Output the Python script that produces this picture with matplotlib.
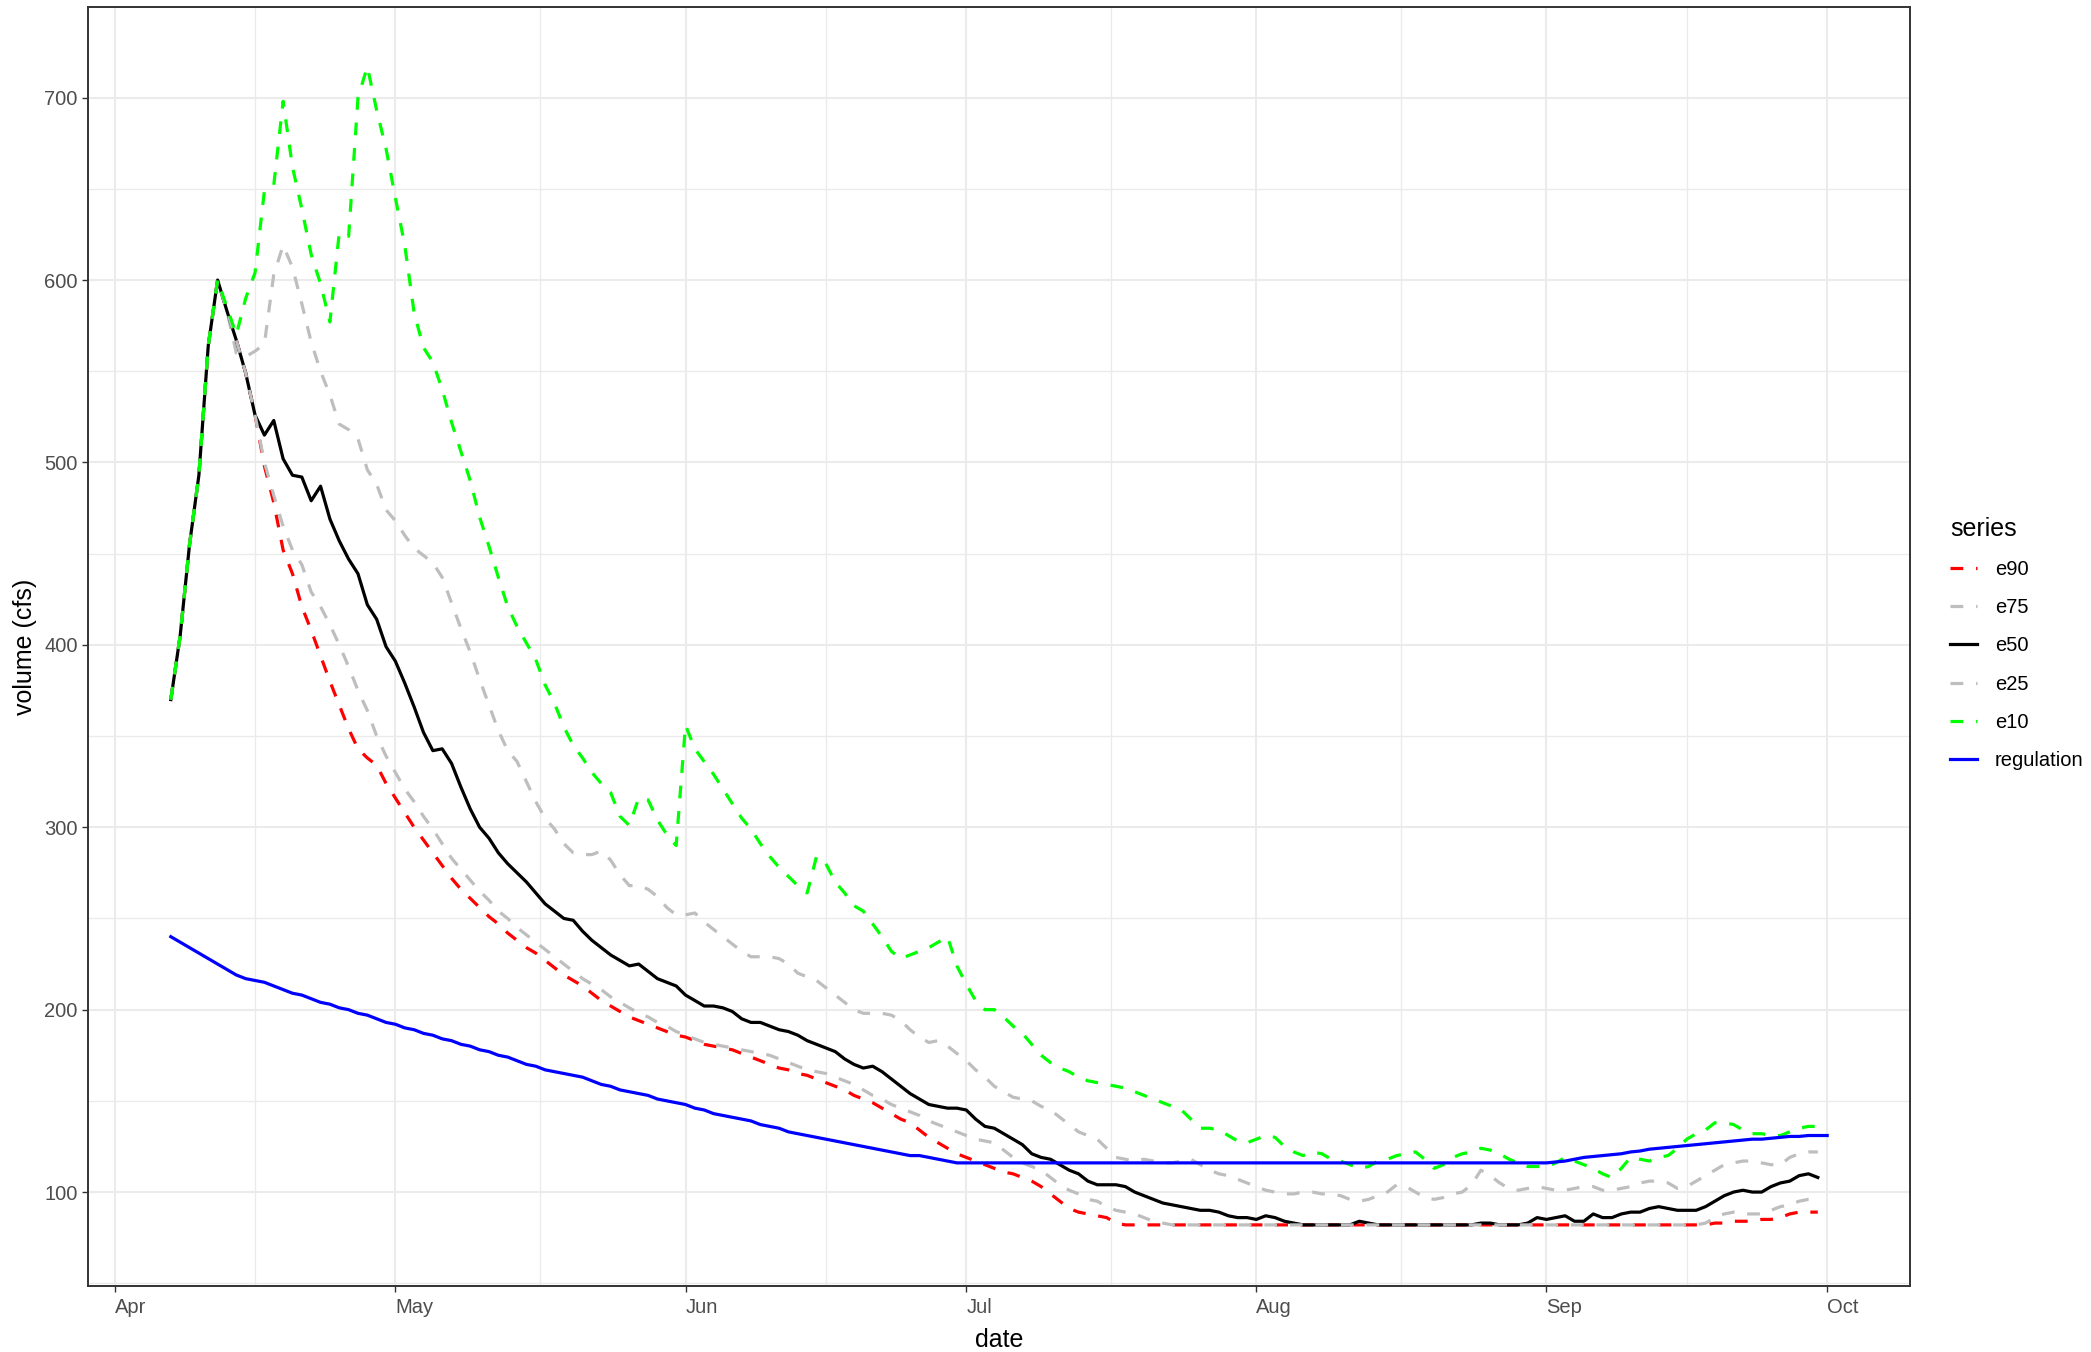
import numpy as np
import pandas as pd
import matplotlib
matplotlib.use("Agg")
import matplotlib.pyplot as plt
import matplotlib.dates as mdates
from matplotlib.ticker import FixedLocator, MultipleLocator

plt.rcParams['font.family'] = ['Liberation Sans', 'DejaVu Sans']

# ---------------- data ----------------
# forecasts: daily 7 Apr -> 30 Sep ; regulation: daily 7 Apr -> 1 Oct
start_date = "2021-04-07"
forecast_end = "2021-09-30"
regulation_end = "2021-10-01"
series_names = ["e90", "e75", "e50", "e25", "e10", "regulation"]

e90 = [370, 405, 455, 493, 564, 600, 583, 567, 549, 526,
       498, 478, 452, 439, 421, 408, 394, 380, 367, 354,
       343, 338, 334, 324, 316, 308, 300, 293, 286, 279,
       272, 266, 261, 256, 251, 247, 242, 238, 234, 231,
       227, 223, 219, 216, 213, 209, 205, 202, 199, 196,
       194, 192, 190, 188, 186, 185, 183, 181, 180, 179,
       178, 176, 174, 172, 170, 168, 167, 165, 164, 162,
       160, 158, 156, 153, 151, 149, 146, 143, 140, 138,
       134, 130, 127, 124, 121, 119, 117, 115, 113, 111,
       110, 108, 106, 103, 99, 95, 91, 89, 88, 87,
       86, 83, 82, 82, 82, 82, 82, 82, 82, 82,
       82, 82, 82, 82, 82, 82, 82, 82, 82, 82,
       82, 82, 82, 82, 82, 82, 82, 82, 82, 82,
       82, 82, 82, 82, 82, 82, 82, 82, 82, 82,
       82, 82, 82, 82, 82, 82, 82, 82, 82, 82,
       82, 82, 82, 82, 82, 82, 82, 82, 82, 82,
       82, 82, 82, 82, 82, 83, 83, 84, 84, 84,
       85, 85, 86, 88, 89, 89, 89]

e75 = [370, 405, 455, 493, 564, 600, 583, 560, 558, 561,
       565, 603, 619, 607, 587, 566, 550, 537, 521, 518,
       513, 496, 488, 474, 468, 460, 453, 449, 445, 437,
       423, 409, 396, 381, 367, 353, 342, 336, 325, 314,
       305, 299, 291, 286, 285, 285, 287, 282, 274, 268,
       268, 266, 262, 256, 252, 252, 253, 248, 244, 240,
       236, 232, 229, 229, 229, 228, 225, 220, 218, 216,
       212, 208, 204, 200, 198, 198, 198, 197, 194, 189,
       185, 182, 183, 180, 176, 172, 167, 163, 158, 155,
       152, 151, 150, 147, 145, 141, 137, 133, 131, 129,
       124, 119, 118, 117, 118, 117, 116, 116, 117, 118,
       115, 112, 110, 109, 107, 105, 103, 101, 100, 99,
       99, 100, 100, 99, 99, 98, 96, 95, 96, 98,
       100, 104, 103, 100, 97, 96, 97, 99, 100, 104,
       112, 109, 105, 102, 101, 102, 103, 102, 101, 101,
       102, 103, 103, 101, 101, 102, 103, 105, 106, 106,
       105, 102, 103, 106, 109, 112, 115, 116, 117, 117,
       116, 115, 115, 119, 121, 122, 122]

e50 = [370, 405, 455, 493, 564, 600, 583, 567, 549, 526,
       515, 523, 502, 493, 492, 479, 487, 469, 457, 447,
       439, 422, 414, 399, 391, 379, 366, 352, 342, 343,
       335, 322, 310, 300, 294, 286, 280, 275, 270, 264,
       258, 254, 250, 249, 243, 238, 234, 230, 227, 224,
       225, 221, 217, 215, 213, 208, 205, 202, 202, 201,
       199, 195, 193, 193, 191, 189, 188, 186, 183, 181,
       179, 177, 173, 170, 168, 169, 166, 162, 158, 154,
       151, 148, 147, 146, 146, 145, 140, 136, 135, 132,
       129, 126, 121, 119, 118, 115, 112, 110, 106, 104,
       104, 104, 103, 100, 98, 96, 94, 93, 92, 91,
       90, 90, 89, 87, 86, 86, 85, 87, 86, 84,
       83, 82, 82, 82, 82, 82, 82, 84, 83, 82,
       82, 82, 82, 82, 82, 82, 82, 82, 82, 82,
       83, 83, 82, 82, 82, 83, 86, 85, 86, 87,
       84, 84, 88, 86, 86, 88, 89, 89, 91, 92,
       91, 90, 90, 90, 92, 95, 98, 100, 101, 100,
       100, 103, 105, 106, 109, 110, 108]

e25 = [370, 405, 455, 493, 564, 600, 583, 567, 549, 526,
       500, 482, 465, 452, 444, 429, 421, 411, 400, 388,
       375, 364, 350, 339, 330, 321, 314, 306, 299, 291,
       283, 277, 271, 265, 260, 254, 250, 245, 241, 237,
       233, 229, 225, 221, 217, 214, 211, 207, 204, 201,
       198, 196, 193, 191, 188, 186, 184, 182, 181, 180,
       179, 178, 177, 176, 175, 173, 171, 169, 167, 166,
       165, 163, 161, 159, 156, 153, 151, 148, 146, 144,
       142, 139, 137, 135, 133, 131, 129, 128, 127, 123,
       119, 116, 114, 112, 108, 104, 101, 99, 96, 95,
       92, 90, 89, 88, 86, 84, 83, 82, 82, 82,
       82, 82, 82, 82, 82, 82, 82, 82, 82, 82,
       82, 82, 82, 82, 82, 82, 82, 82, 82, 82,
       82, 82, 82, 82, 82, 82, 82, 82, 82, 82,
       82, 82, 82, 82, 82, 82, 82, 82, 82, 82,
       82, 82, 82, 82, 82, 82, 82, 82, 82, 82,
       82, 82, 82, 82, 83, 86, 88, 89, 88, 88,
       88, 90, 92, 93, 95, 96, 96]

e10 = [370, 405, 455, 493, 564, 600, 585, 570, 590, 604,
       649, 652, 698, 662, 639, 614, 598, 577, 626, 624,
       700, 717, 693, 672, 645, 619, 582, 563, 555, 540,
       522, 506, 490, 470, 454, 437, 421, 410, 401, 392,
       378, 368, 355, 345, 338, 330, 324, 319, 306, 301,
       316, 315, 304, 296, 290, 356, 343, 336, 329, 321,
       313, 305, 299, 291, 284, 278, 273, 268, 264, 284,
       280, 270, 264, 257, 254, 247, 240, 232, 228, 230,
       232, 234, 237, 240, 224, 214, 205, 200, 200, 196,
       191, 187, 181, 175, 171, 168, 166, 163, 161, 160,
       159, 158, 157, 155, 153, 151, 149, 147, 145, 140,
       135, 135, 134, 131, 128, 127, 129, 131, 130, 125,
       122, 120, 122, 121, 118, 117, 115, 113, 114, 117,
       118, 120, 121, 122, 118, 113, 115, 119, 121, 122,
       124, 123, 121, 118, 116, 114, 114, 114, 116, 119,
       117, 115, 113, 110, 108, 113, 119, 118, 117, 119,
       120, 124, 129, 132, 134, 138, 138, 137, 134, 132,
       132, 131, 131, 133, 135, 136, 136]

regulation = [240, 237, 234, 231, 228, 225, 222, 219, 217, 216,
              215, 213, 211, 209, 208, 206, 204, 203, 201, 200,
              198, 197, 195, 193, 192, 190, 189, 187, 186, 184,
              183, 181, 180, 178, 177, 175, 174, 172, 170, 169,
              167, 166, 165, 164, 163, 161, 159, 158, 156, 155,
              154, 153, 151, 150, 149, 148, 146, 145, 143, 142,
              141, 140, 139, 137, 136, 135, 133, 132, 131, 130,
              129, 128, 127, 126, 125, 124, 123, 122, 121, 120,
              120, 119, 118, 117, 116, 116, 116, 116, 116, 116,
              116, 116, 116, 116, 116, 116, 116, 116, 116, 116,
              116, 116, 116, 116, 116, 116, 116, 116, 116, 116,
              116, 116, 116, 116, 116, 116, 116, 116, 116, 116,
              116, 116, 116, 116, 116, 116, 116, 116, 116, 116,
              116, 116, 116, 116, 116, 116, 116, 116, 116, 116,
              116, 116, 116, 116, 116, 116, 116, 116, 116.5, 117,
              118, 119, 119.5, 120, 120.5, 121, 122, 122.5, 123.5, 124,
              124.5, 125, 125.5, 126, 126.5, 127, 127.5, 128, 128.5, 129,
              129, 129.5, 130, 130.5, 130.5, 131, 131, 131]

y_ticks = [100, 200, 300, 400, 500, 600, 700]
month_labels = ["Apr", "May", "Jun", "Jul", "Aug", "Sep", "Oct"]

# ---------------- plotting ----------------
fc_dates = pd.date_range(start_date, forecast_end, freq="D")
reg_dates = pd.date_range(start_date, regulation_end, freq="D")
values = [e90, e75, e50, e25, e10, regulation]
date_sets = [fc_dates] * 5 + [reg_dates]
for v, d in zip(values, date_sets):
    assert len(v) == len(d), (len(v), len(d))

colors = ["#FF0000", "#BEBEBE", "#000000", "#BEBEBE", "#00FF00", "#0000FF"]
styles = ["dashed", "dashed", "solid", "dashed", "dashed", "solid"]

W, H = 2091, 1352
fig = plt.figure(figsize=(W / 100, H / 100), dpi=100)
ax = fig.add_axes([88 / W, 1 - 1286 / H, (1910 - 88) / W, (1286 - 7) / H])

lw = 2.3
handles = []
for name, d, v, c, s in zip(series_names, date_sets, values, colors, styles):
    if s == "dashed":
        ln, = ax.plot(d, v, color=c, lw=lw, dashes=(4, 4), label=name,
                      dash_capstyle="butt")
    else:
        ln, = ax.plot(d, v, color=c, lw=lw, label=name,
                      solid_joinstyle="round")
    handles.append(ln)

# limits (ggplot-like 5% expansion of the data range)
x0, x1 = reg_dates[0], reg_dates[-1]
span = x1 - x0
ax.set_xlim(x0 - span * 0.05, x1 + span * 0.05)
ax.set_ylim(48.5, 749.7)

# ticks
month_starts = pd.date_range("2021-03-01", "2021-11-01", freq="MS")
major = [d for d in month_starts if pd.Timestamp("2021-04-01") <= d <= pd.Timestamp("2021-10-01")]
ax.xaxis.set_major_locator(FixedLocator(mdates.date2num(major)))
ax.set_xticklabels(month_labels)
ms_num = mdates.date2num(month_starts)
mids = (ms_num[:-1] + ms_num[1:]) / 2
ax.xaxis.set_minor_locator(FixedLocator(mids))
ax.set_yticks(y_ticks)
ax.yaxis.set_minor_locator(MultipleLocator(50))

for lab in ax.get_xticklabels():
    lab.set_horizontalalignment("left")

ax.tick_params(which="major", length=4.5, width=1.0, color="#333333",
               labelcolor="#4D4D4D", labelsize=14.5)
ax.tick_params(axis="x", which="major", pad=4)
ax.tick_params(axis="y", which="major", pad=3)
ax.tick_params(which="minor", length=0)

ax.grid(which="major", color="#EBEBEB", lw=1.5)
ax.grid(which="minor", color="#EBEBEB", lw=1.0)
ax.set_axisbelow(True)
for sp in ax.spines.values():
    sp.set_color("#333333")
    sp.set_linewidth(1.4)

ax.set_xlabel("date", fontsize=18, color="black", labelpad=8)
ax.set_ylabel("volume (cfs)", fontsize=18, color="black", labelpad=5)

leg = fig.legend(handles=handles, labels=series_names, title="series",
                 loc="upper left", bbox_to_anchor=(1940 / W, 1 - 507 / H),
                 frameon=False, fontsize=14.5, title_fontsize=18,
                 handlelength=1.32, handletextpad=0.9, labelspacing=0.95,
                 borderpad=0, alignment="left")

fig.savefig("out.png", dpi=100)
